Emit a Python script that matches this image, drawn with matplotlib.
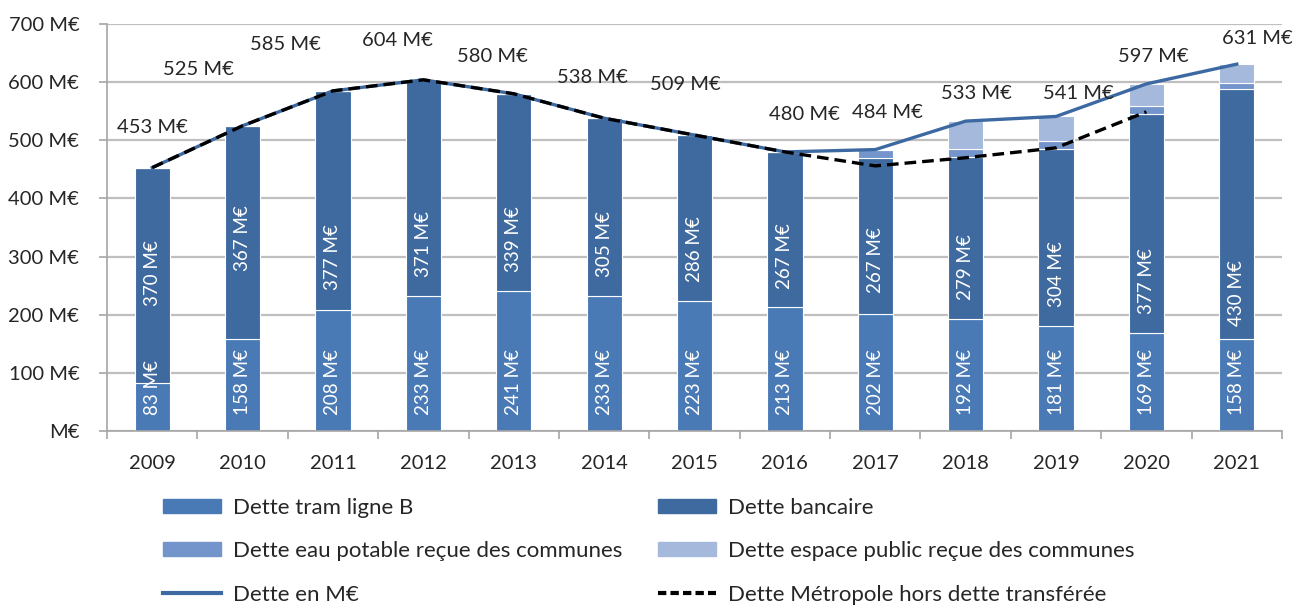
import numpy as np
import matplotlib
matplotlib.use("Agg")
import matplotlib.pyplot as plt
from matplotlib.patches import Patch
from matplotlib.lines import Line2D

plt.rcParams['font.family'] = ['Lato', 'DejaVu Sans']

# data (M€)
years = ['2009', '2010', '2011', '2012', '2013', '2014', '2015',
         '2016', '2017', '2018', '2019', '2020', '2021']
tram = [83, 158, 208, 233, 241, 233, 223, 213, 202, 192, 181, 169, 158]
bancaire = [370, 367, 377, 371, 339, 305, 286, 267, 267, 279, 304, 377, 430]
eau = [0, 0, 0, 0, 0, 0, 0, 0, 15, 14, 14, 13, 11]
espace = [0, 0, 0, 0, 0, 0, 0, 0, 0, 48, 42, 38, 32]
total = [453, 525, 585, 604, 580, 538, 509, 480, 484, 533, 541, 597, 631]
hors_transf = [453, 525, 585, 604, 580, 538, 509, 480, 456, 470, 487, 549, np.nan]

# label placement (layout only)
total_off = [(0, 40), (-44, 56), (-48, 46), (-26, 39), (-21, 37), (-12, 41), (-9, 51),
             (20, 37), (12, 37), (11, 28), (22, 23), (7, 27), (21, 26)]
banc_label_y = [272, 332, 299, 322, 330, 322, 313, 301, 294, 282, 270, 258, 237]

c_tram = '#4a7ab5'
c_banc = '#3f6a9f'
c_eau = '#7395cb'
c_esp = '#a4b9dc'
c_line = '#3d69a2'

fig = plt.figure(figsize=(12.99, 6.05), dpi=100)
ax = fig.add_axes([0.0824, 0.2876, 0.9045, 0.6727])

x = np.arange(len(years))
w = 0.39
b1 = np.array(tram)
b2 = b1 + np.array(bancaire)
b3 = b2 + np.array(eau)
ax.bar(x, tram, w, color=c_tram, edgecolor='white', linewidth=0.8, zorder=2)
ax.bar(x, bancaire, w, bottom=b1, color=c_banc, edgecolor='white', linewidth=0.8, zorder=2)
ax.bar(x, eau, w, bottom=b2, color=c_eau, edgecolor='white', linewidth=0.8, zorder=2)
ax.bar(x, espace, w, bottom=b3, color=c_esp, edgecolor='white', linewidth=0.8, zorder=2)

ax.plot(x, total, color=c_line, lw=2.4, zorder=3)
ax.plot(x, hors_transf, color='black', lw=2.4, ls=(0, (3.5, 1.8)), zorder=4)

for i in range(len(years)):
    ax.annotate(f'{total[i]} M€', xy=(x[i], total[i]), xytext=total_off[i],
                textcoords='offset pixels', ha='center', va='center',
                fontsize=14.5, color='#262626')
    ax.annotate(f'{tram[i]} M€', xy=(x[i], 0), xytext=(0, 16),
                textcoords='offset pixels', rotation=90, rotation_mode='anchor',
                ha='left', va='center', color='white', fontsize=13.5, zorder=5)
    ax.text(x[i], banc_label_y[i], f'{bancaire[i]} M€', rotation=90,
            ha='center', va='center', color='white', fontsize=13.5, zorder=5)

ax.set_xlim(-0.5, len(years) - 0.5)
ax.set_ylim(0, 700)
ax.set_yticks(range(0, 701, 100))
ax.set_yticklabels(['M€'] + [f'{v} M€' for v in range(100, 701, 100)])
ax.set_xticks(x)
ax.set_xticklabels(years)
ax.set_xticks(np.arange(-0.5, len(years), 1), minor=True)
ax.tick_params(axis='x', which='major', length=0, pad=17, labelsize=14.5, labelcolor='#262626')
ax.tick_params(axis='x', which='minor', length=6, width=1.2, color='#a6a6a6', direction='out')
ax.tick_params(axis='y', length=6, width=1.2, color='#a6a6a6', pad=14, labelsize=14.5,
               labelcolor='#262626')
ax.grid(axis='y', color='#bfbfbf', lw=1.6, zorder=0)
ax.set_axisbelow(True)
for s in ['top', 'right']:
    ax.spines[s].set_visible(False)
for s in ['left', 'bottom']:
    ax.spines[s].set_color('#a6a6a6')
    ax.spines[s].set_linewidth(1.2)

handles = [Patch(color=c_tram), Patch(color=c_banc), Patch(color=c_eau), Patch(color=c_esp),
           Line2D([], [], color=c_line, lw=3), Line2D([], [], color='black', lw=3, ls=(0, (2, 1)))]
labels = ['Dette tram ligne B', 'Dette bancaire',
          'Dette eau potable reçue des communes', 'Dette espace public reçue des communes',
          'Dette en M€', 'Dette Métropole hors dette transférée']
# reorder for row-wise fill with ncol=2
order = [0, 2, 4, 1, 3, 5]
fig.legend([handles[k] for k in order], [labels[k] for k in order], ncol=2,
           loc='upper left', bbox_to_anchor=(0.1255, 0.177), frameon=False,
           fontsize=16, handlelength=2.6, handleheight=0.6, handletextpad=0.55,
           columnspacing=1.6, labelspacing=1.05, borderaxespad=0, borderpad=0,
           labelcolor='#262626')

fig.savefig('out.png', dpi=100)
